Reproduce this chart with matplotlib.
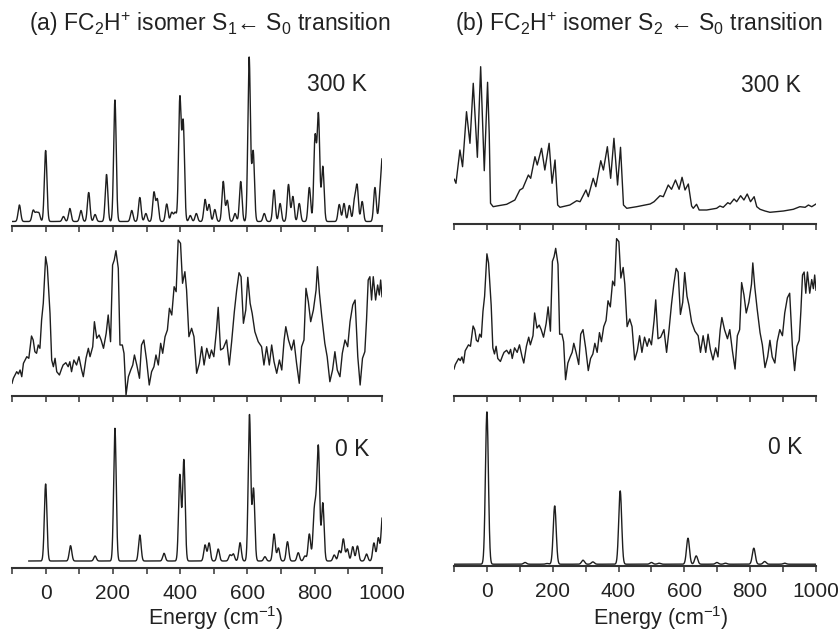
import numpy as np
import matplotlib
matplotlib.use("Agg")
import matplotlib.pyplot as plt

plt.rcParams['font.family'] = ['Liberation Sans', 'DejaVu Sans']
plt.rcParams['mathtext.fontset'] = 'custom'
plt.rcParams['mathtext.rm'] = 'Liberation Sans'
plt.rcParams['mathtext.it'] = 'Liberation Sans'

# --- data (energies in cm-1, heights in arbitrary units) ---

# (a) S1 <- S0, simulated 300 K: stick positions and heights
a300_pos = [-78, -37, -28, -20, 0, 53, 72, 105, 128, 147, 181, 206, 256, 280, 298,
            322, 332, 360, 375, 385, 399, 409, 430, 448, 474, 486, 503, 528, 540,
            563, 580, 605, 617, 650, 679, 697, 722, 735, 754, 784, 801, 811, 824,
            873, 887, 903, 918, 926, 941, 979, 994, 1001]
a300_int = [16.5, 11, 8, 8, 71, 5, 13, 11, 29, 7, 47, 121.5, 11, 24, 8,
            29, 22, 17.5, 9, 9, 122.5, 98, 6, 8, 22, 17, 12, 40, 21,
            8, 40, 164, 70, 8, 31.5, 18, 37, 25, 18, 34, 84, 106, 55,
            17, 18, 16, 20, 35, 20, 34, 23, 58]

# (a) simulated 0 K
a0_pos = [0, 74, 147, 206, 280, 352, 399, 411, 474, 486, 513, 548, 558, 578, 606,
          618, 652, 679, 692, 719, 751, 771, 784, 798, 804, 811, 824, 858, 873,
          885, 897, 913, 927, 954, 976, 989, 1001]
a0_int = [77, 15.3, 5, 132.7, 26, 7.7, 86, 101, 16, 18, 12, 6, 7, 18.3, 146,
          72, 4.3, 27, 13, 19.3, 8.3, 5, 27, 40, 38, 108, 58, 6, 10.3,
          22, 12, 14.3, 15, 7, 18, 23, 44]

# (b) S2 <- S0, simulated 0 K
b0_pos = [0, 116, 183, 206, 292, 322, 405, 500, 523, 611, 636, 699, 725, 811, 844, 905]
b0_int = [152.3, 1.7, 0.7, 58.3, 4, 2.3, 73.3, 1.7, 1, 26, 8.3, 1.7, 1, 16, 2.7, 1]

# (b) simulated 300 K trace
b300_x = [-99, -94, -82, -74, -62, -51.5, -41.5, -29, -19, -8, 2, 7, 11, 19, 30, 60,
          85, 100, 109, 126, 133, 146, 153, 166, 176, 189, 198, 207, 215, 222, 252,
          273, 283, 301, 308, 323, 331, 346, 354, 366, 376, 386, 397, 406, 415, 425,
          455, 496, 508, 526, 536, 551, 561, 573, 584, 593, 602, 612, 622, 627, 637,
          645, 668, 698, 708, 718, 732, 739, 751, 759, 771, 781, 791, 801, 812, 820,
          830, 845, 860, 901, 931, 951, 967, 977, 987, 1000]
b300_y = [44.7, 40.7, 74, 57.3, 112.3, 80.7, 140.7, 66.7, 157.3, 53.3, 141.7, 90.7,
          20.7, 17.3, 18, 19.7, 24, 34, 35.7, 49, 45.7, 67.3, 59, 75.7, 54, 80.7,
          40.7, 64, 19, 16.7, 19, 23.3, 22.3, 34, 27.3, 45.7, 37.3, 63.3, 54, 77.3,
          45.7, 85.7, 39, 76.7, 19, 15.7, 17.3, 20, 22.3, 28.3, 27.3, 39, 34.7, 44,
          34.7, 46.7, 34, 40, 18, 15.7, 19.7, 14, 14, 15.7, 18, 16.7, 21.3, 20, 25,
          22.3, 28.3, 24, 30, 22.3, 27.3, 17.3, 14.7, 13, 11.7, 13, 14.7, 17.3, 16.7,
          19, 17.3, 20]

# experimental spectrum (same trace shown in both columns)
expt_x = [-100, -96, -86, -81, -76, -71, -66, -56, -50, -42, -37, -32, -27, -22, -17,
          -12, -7, 0, 5, 13, 18, 23, 28, 33, 41, 48, 52, 60, 67, 72, 77, 84, 92, 99,
          107, 112, 120, 127, 132, 140, 145, 152, 159, 165, 172, 180, 186, 193, 199,
          204, 209, 216, 221, 228, 233, 239, 246, 253, 259, 264, 271, 279, 285, 292,
          300, 308, 315, 322, 328, 335, 342, 348, 355, 362, 368, 375, 382, 388, 394,
          401, 407, 414, 419, 426, 434, 441, 449, 457, 464, 471, 479, 487, 493, 500,
          508, 513, 520, 528, 538, 546, 553, 561, 568, 575, 581, 588, 595, 601, 608,
          614, 622, 632, 642, 649, 657, 665, 672, 679, 687, 695, 702, 709, 714, 722,
          731, 738, 746, 754, 761, 768, 774, 781, 788, 796, 804, 808, 814, 821, 830,
          837, 845, 853, 860, 867, 875, 882, 890, 898, 905, 913, 920, 928, 935, 942,
          949, 954, 959, 964, 969, 974, 981, 987, 992, 996, 1000]
expt_y = [12.7, 17.7, 24.3, 22, 26, 19.3, 32.7, 39.3, 37.7, 60, 56, 44.3, 42.7, 51,
          47.7, 76, 92.7, 139.3, 129.3, 82.7, 36, 29.3, 37.7, 24.3, 21, 27.7, 31,
          33.3, 29.3, 34.3, 24.3, 36, 31, 39.3, 26, 19.3, 37.7, 47.7, 39.3, 49.3,
          74.3, 57.7, 61, 56, 47.7, 62.7, 81, 54.3, 131, 136, 145.3, 127.7, 51, 51,
          42.7, 1, 19.3, 26, 31, 41, 31, 17.7, 51, 56, 36, 11, 24.3, 29.3, 41, 31,
          52.7, 42.7, 59.3, 66, 87.7, 81, 109.3, 104.3, 156, 152.7, 112.7, 124.3,
          106, 59.3, 67.7, 59.3, 22.7, 32.7, 49.3, 31, 47.7, 37.7, 46, 39.3, 66,
          88.7, 46, 47.7, 56, 31, 54.3, 84.3, 106, 123.3, 119.3, 72.7, 86, 118.7,
          92.7, 82.7, 64.3, 54.3, 49.3, 31, 49.3, 31, 51, 34.3, 22.7, 36, 26, 56,
          69.3, 56, 46, 56, 32.7, 12.7, 49.3, 56, 107.7, 94.3, 74.3, 86, 106, 129.3,
          102.7, 79.3, 52.7, 39.3, 14.3, 26, 44.3, 26, 19.3, 42.7, 56, 49.3, 74.3,
          91, 96, 39.3, 11, 37.7, 44.3, 76, 116, 119.3, 96, 119.3, 96, 111, 101, 116,
          99.3]


def broaden(grid, pos, inten, sigma):
    y = np.zeros_like(grid)
    for p, h in zip(pos, inten):
        y += h * np.exp(-(grid - p) ** 2 / (2 * sigma ** 2))
    return y


W, H = 839, 631
fig = plt.figure(figsize=(W / 100, H / 100), dpi=100)
line_kw = dict(color='#1e1e1e', lw=1.0)


def panel(x0, width, axis_y, height, labels=False):
    ax = fig.add_axes([x0 / W, 1 - axis_y / H, width / W, height / H])
    for s in ['left', 'right', 'top']:
        ax.spines[s].set_visible(False)
    ax.spines['bottom'].set_linewidth(1.5)
    ax.spines['bottom'].set_color('#333333')
    ax.set_xlim(-100, 1000)
    ax.set_xticks(range(0, 1001, 200))
    ax.set_xticks(range(-100, 1000, 200), minor=True)
    ax.set_yticks([])
    ax.tick_params(axis='x', which='both', direction='out', length=4, width=1.1,
                   color='#333333', labelsize=15, pad=7.5, labelbottom=labels,
                   labelcolor='#222222')
    ax.set_ylim(0, height)
    ax.patch.set_alpha(0)
    return ax


grid = np.linspace(-100, 1000, 4401)

# (a) column
ax = panel(12, 370, 225.5, 180)
ax.plot(grid, 4 + broaden(grid, a300_pos, a300_int, 3.8), **line_kw)

ax = panel(12, 370, 396, 168)
ax.plot(expt_x, expt_y, **line_kw)

ax = panel(12, 370, 568.3, 160, labels=True)
g0 = grid[grid >= -50]
ax.plot(g0, 7.3 + broaden(g0, a0_pos, a0_int, 3.8), **line_kw)

# (b) column
ax = panel(454, 362, 224, 180)
ax.plot(b300_x, b300_y, **line_kw)

ax = panel(454, 362, 395.7, 168)
ax.set_ylim(-16.6, 168)
ax.plot(expt_x, expt_y, **line_kw)

ax = panel(454, 362, 565.7, 160, labels=True)
ax.plot(grid, 1.5 + broaden(grid, b0_pos, b0_int, 4.5), **line_kw)

# text
txt = dict(color='#222222', ha='center', va='center')
fig.text(210 / W, 1 - 24 / H, r'(a) FC$_2$H$^{+}$ isomer S$_1$← S$_0$ transition', fontsize=16.5, **txt)
fig.text(639 / W, 1 - 24 / H, r'(b) FC$_2$H$^{+}$ isomer S$_2$ ← S$_0$ transition', fontsize=16.5, **txt)
fig.text(337 / W, 1 - 84.5 / H, '300 K', fontsize=16.5, **txt)
fig.text(771 / W, 1 - 85 / H, '300 K', fontsize=16.5, **txt)
fig.text(352 / W, 1 - 449 / H, '0 K', fontsize=16.5, **txt)
fig.text(785 / W, 1 - 447.5 / H, '0 K', fontsize=16.5, **txt)
fig.text(216 / W, 1 - 618 / H, r'Energy (cm$^{-1}$)', fontsize=15.5, **txt)
fig.text(661 / W, 1 - 618 / H, r'Energy (cm$^{-1}$)', fontsize=15.5, **txt)

fig.savefig('out.png', dpi=100)
